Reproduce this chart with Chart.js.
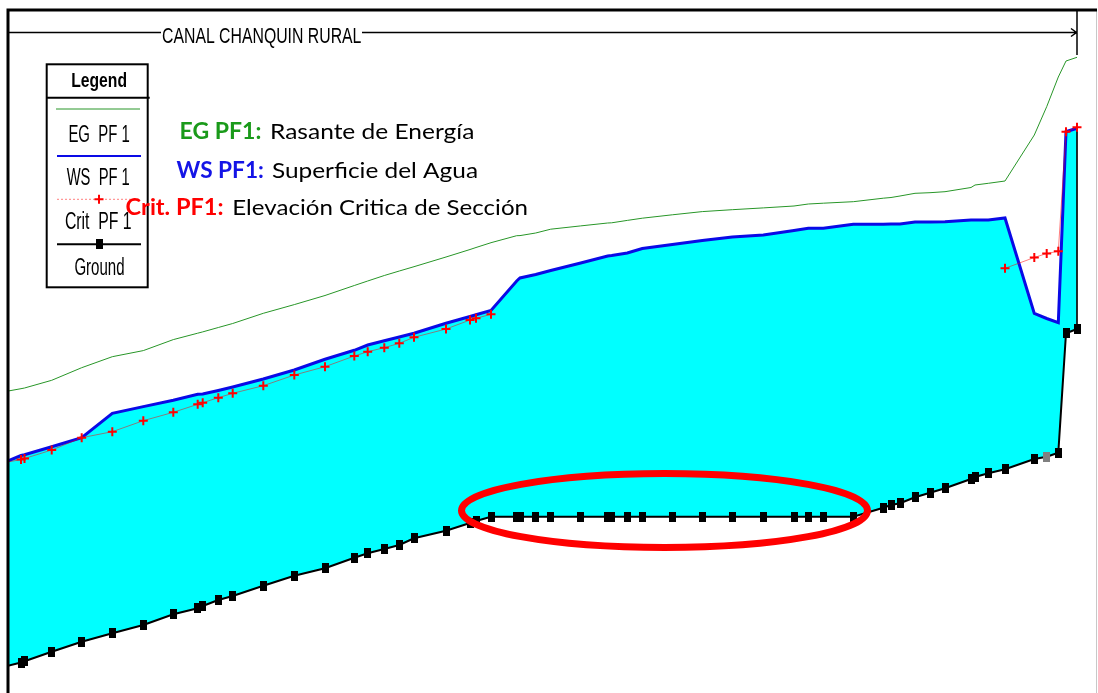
<!DOCTYPE html>
<html>
<head>
<meta charset="utf-8">
<script src="https://cdn.jsdelivr.net/npm/chart.js@4/dist/chart.umd.min.js"></script>
<style>
  html, body { margin: 0; padding: 0; background: #fff; overflow: hidden; }
  canvas { display: block; }
</style>
</head>
<body>
<canvas id="profile" width="1098" height="720"></canvas>
<script>
// Longitudinal profile of the reach: stations (m) and elevations per series
const stations = [
  -8, 13, 16.5, 43.7, 73.7, 104.3, 135.3, 165.3, 189.7, 194.7,
  210.3, 224.7, 255.3, 286.3, 317, 346.3, 359.7, 376.3, 391.3, 406,
  438, 462, 468, 483, 508.7, 512, 527.7, 542.7, 572.7, 599.7,
  603.7, 619.3, 634.3, 664.3, 694.3, 724.3, 755.3, 786, 800.3, 815.3,
  845.3, 875.3, 883, 892, 907, 922, 937, 963, 967, 980.3,
  997, 1026.3, 1038.7, 1050.3, 1058, 1069
];
const groundElev = [
  32.4, 37.5, 38.7, 48.3, 58.3, 66.7, 75, 85.7, 91.7, 94,
  100, 104, 114.3, 124.3, 131.7, 142.3, 146.7, 151, 155, 161.7,
  169.3, 177, 179, 183.3, 183.3, 183.3, 183.3, 183.3, 183.3, 183.3,
  183.3, 183.3, 183.3, 183.3, 183.3, 183.3, 183.3, 183.3, 183.3, 183.3,
  183.3, 192.3, 195, 196.7, 202.7, 207.3, 211.7, 221, 223, 226.7,
  230.7, 241, 243.3, 247.3, 366.7, 371
];
const wsElev = [
  236, 244.5, 245.3, 253.2, 262.3, 286.7, 293.4, 299.8, 305.7, 306,
  309.5, 313, 321, 330, 340.7, 349.7, 355, 359.2, 363, 366.7,
  376.7, 383.5, 385.3, 389.5, 419, 422, 425.5, 429.5, 437, 444,
  444.5, 447, 451.5, 455.5, 459.5, 463, 465, 469.5, 471.7, 471.7,
  475.7, 475.7, 476, 476, 478, 478, 478.3, 480, 480, 480,
  482, 386.5, 381.5, 377.3, 568.3, 571.7
];
const egElev = [
  307.5, 311.3, 312, 319.7, 332.3, 343.3, 349.4, 360.4, 366.8, 368.1,
  372.5, 376.5, 386.7, 395.4, 404.5, 414.5, 419, 424.5, 429, 433.3,
  443, 450.5, 452.5, 457.3, 464.3, 464.4, 467, 470.8, 474.1, 477,
  477.2, 479.6, 481.8, 485.2, 488.4, 490.3, 492.1, 494, 496, 496.8,
  498.3, 501.8, 502.5, 504, 506.7, 507.3, 508.3, 512.5, 515, 516.7,
  519, 565, 593.3, 623, 639, 642.7
];
const critElev = [
  236.5, 240.5, 241.5, 250, 262.3, 268.3, 279.3, 287.7, 295.7, 297.3,
  302.3, 306.7, 314.3, 325, 333.3, 344, 348.3, 352.3, 356.7, 362.7,
  371, 380, 381.7, 385.7, null, null, null, null, null, null,
  null, null, null, null, null, null, null, null, null, null,
  null, null, null, null, null, null, null, null, null, null,
  431.7, 442.5, 446.5, 448.7, 568.3, 572.7
];
// Stations drawn with a grey ground marker
const greyGroundStations = [1038.7];

const seriesLabels = ['EG  PF 1', 'WS  PF 1', 'Crit  PF 1', 'Ground'];
const reachName = 'CANAL CHANQUIN RURAL';
const noteTags = ['EG PF1:', 'WS PF1:', 'Crit. PF1:'];
const noteTexts = ['Rasante de Energía', 'Superficie del Agua', 'Elevación Critica de Sección'];
const noteColors = ['#1a9a1a', '#1414e6', '#ff0000'];

// Highlighted flat stretch of the canal bed (data units)
const highlight = { cx: 656.5, cy: 189.5, rx: 203, ry: 37 };

const NARROW = '"Liberation Sans Narrow", "Liberation Sans", Arial, sans-serif';
const NOTE_FONT = 'Lato, "Open Sans", sans-serif';

function blockMarker(color) {
  const c = document.createElement('canvas');
  c.width = 7; c.height = 10;
  const g = c.getContext('2d');
  g.fillStyle = color;
  g.fillRect(0, 0, 7, 10);
  return c;
}
const blackBlock = blockMarker('#000000');
const greyBlock = blockMarker('#808080');

const pts = arr => stations.map((x, i) => ({ x: x, y: arr[i] }));
const last = stations.length - 1;

function fitText(ctx, str, font, left, right, baseline, color) {
  ctx.save();
  ctx.font = font;
  ctx.fillStyle = color;
  ctx.textAlign = 'left';
  ctx.textBaseline = 'alphabetic';
  const w = ctx.measureText(str).width;
  ctx.translate(left, baseline);
  ctx.scale((right - left) / w, 1);
  ctx.fillText(str, 0, 0);
  ctx.restore();
}

const decor = {
  id: 'profileDecor',
  afterDatasetsDraw(chart) {
    const ctx = chart.ctx;
    const a = chart.chartArea;
    const xs = chart.scales.x, ys = chart.scales.y;

    // highlight ellipse around the flat bed
    ctx.save();
    const cx = xs.getPixelForValue(highlight.cx), cy = ys.getPixelForValue(highlight.cy);
    const rx = xs.getPixelForValue(highlight.cx + highlight.rx) - cx;
    const ry = cy - ys.getPixelForValue(highlight.cy + highlight.ry);
    ctx.beginPath();
    ctx.ellipse(cx, cy, rx, ry, 0, 0, Math.PI * 2);
    ctx.strokeStyle = '#ff0000';
    ctx.lineWidth = 7;
    ctx.stroke();
    ctx.restore();

    // plot frame
    ctx.save();
    ctx.strokeStyle = '#c8c8c8';
    ctx.lineWidth = 1;
    ctx.beginPath(); ctx.moveTo(a.right - 0.5, a.top); ctx.lineTo(a.right - 0.5, a.bottom); ctx.stroke();
    ctx.strokeStyle = '#000';
    ctx.lineWidth = 3;
    ctx.beginPath();
    ctx.moveTo(a.left, a.bottom); ctx.lineTo(a.left, a.top); ctx.lineTo(a.right, a.top);
    ctx.stroke();

    // reach extent arrow with its name
    const endX = xs.getPixelForValue(stations[last]);
    const arrowY = 32.5;
    ctx.lineWidth = 1.5;
    ctx.beginPath();
    ctx.moveTo(a.left, arrowY); ctx.lineTo(161, arrowY);
    ctx.moveTo(362, arrowY); ctx.lineTo(endX - 1, arrowY);
    ctx.moveTo(endX - 6, arrowY - 4); ctx.lineTo(endX - 0.5, arrowY); ctx.lineTo(endX - 6, arrowY + 4);
    ctx.moveTo(endX, a.top); ctx.lineTo(endX, 55);
    ctx.stroke();
    ctx.restore();
    fitText(ctx, reachName, '22px ' + NARROW, 162, 361.4, 42.7, '#000');

    // legend box
    const box = { left: 46.7, top: 64.3, right: 147.7, bottom: 287.3, head: 97.7 };
    ctx.save();
    ctx.fillStyle = '#fff';
    ctx.fillRect(box.left, box.top, box.right - box.left, box.bottom - box.top);
    ctx.strokeStyle = '#000';
    ctx.lineWidth = 2;
    ctx.strokeRect(box.left, box.top, box.right - box.left, box.bottom - box.top);
    ctx.beginPath(); ctx.moveTo(box.left, box.head); ctx.lineTo(box.right + 2, box.head); ctx.stroke();
    ctx.restore();
    fitText(ctx, 'Legend', 'bold 21px ' + NARROW, 71.2, 127, 87.3, '#000');

    const ds = chart.data.datasets;
    const byLabel = l => ds.find(d => d.label === l);
    const entries = [
      { d: byLabel(seriesLabels[0]), y: 109, x0: 56, x1: 140, tl: 68.4, tr: 129.8, tb: 141.7 },
      { d: byLabel(seriesLabels[1]), y: 156, x0: 57, x1: 141, tl: 66.7, tr: 129.8, tb: 185 },
      { d: byLabel(seriesLabels[2]), y: 199.3, x0: 57, x1: 141, tl: 64.9, tr: 131.6, tb: 229.3, mark: 'cross' },
      { d: byLabel(seriesLabels[3]), y: 244.3, x0: 57, x1: 141, tl: 74.4, tr: 124.6, tb: 275, mark: 'block' }
    ];
    entries.forEach(e => {
      ctx.save();
      ctx.strokeStyle = e.d.borderColor;
      ctx.lineWidth = Math.min(e.d.borderWidth, 2);
      if (e.mark === 'cross') ctx.setLineDash([2, 2]);
      ctx.beginPath(); ctx.moveTo(e.x0, e.y); ctx.lineTo(e.x1, e.y); ctx.stroke();
      ctx.setLineDash([]);
      const mx = (e.x0 + e.x1) / 2;
      if (e.mark === 'cross') {
        ctx.strokeStyle = e.d.pointBorderColor;
        ctx.lineWidth = 2;
        ctx.beginPath();
        ctx.moveTo(mx - 4.5, e.y); ctx.lineTo(mx + 4.5, e.y);
        ctx.moveTo(mx, e.y - 4.5); ctx.lineTo(mx, e.y + 4.5);
        ctx.stroke();
      } else if (e.mark === 'block') {
        ctx.drawImage(blackBlock, mx - 3.5, e.y - 5);
      }
      ctx.restore();
      fitText(ctx, e.d.label, '23px ' + NARROW, e.tl, e.tr, e.tb, '#000');
    });

    // series notes
    const noteRows = [
      { tl: 179.6, tr: 261.4, sl: 270, sr: 474.4, b: 139.3 },
      { tl: 176.5, tr: 263.9, sl: 272, sr: 478, b: 178.3 },
      { tl: 125.6, tr: 223.5, sl: 232.3, sr: 528, b: 215 }
    ];
    noteRows.forEach((r, i) => {
      fitText(ctx, noteTags[i], 'bold 22px ' + NOTE_FONT, r.tl, r.tr, r.b, noteColors[i]);
      fitText(ctx, noteTexts[i], '22px ' + NOTE_FONT, r.sl, r.sr, r.b, '#000');
    });
  }
};

new Chart(document.getElementById('profile'), {
  type: 'line',
  data: {
    datasets: [
      {
        label: seriesLabels[0], data: pts(egElev),
        borderColor: 'rgb(40,150,40)', borderWidth: 1, pointRadius: 0, fill: false
      },
      {
        label: seriesLabels[2], data: pts(critElev),
        borderColor: 'rgba(255,0,0,0.5)', borderWidth: 1,
        pointStyle: 'cross', pointRadius: 4.5, pointBorderColor: '#ff0000', pointBorderWidth: 2,
        spanGaps: false, fill: false
      },
      {
        label: seriesLabels[1], data: pts(wsElev),
        borderColor: '#0a0ae6', borderWidth: 3, pointRadius: 0,
        fill: 3, backgroundColor: '#00ffff'
      },
      {
        label: seriesLabels[3], data: pts(groundElev),
        borderColor: '#000', borderWidth: 2, pointRadius: 5,
        pointStyle: c => greyGroundStations.includes(stations[c.dataIndex]) ? greyBlock : blackBlock,
        fill: false
      },
      {
        label: 'reach end',
        data: [{ x: stations[last], y: wsElev[last] }, { x: stations[last], y: groundElev[last] }],
        borderColor: '#111', borderWidth: 1, pointRadius: 0, fill: false
      }
    ]
  },
  options: {
    responsive: false,
    devicePixelRatio: 1,
    animation: false,
    events: [],
    layout: { autoPadding: false, padding: { left: 8, top: 10, right: 1, bottom: 20 } },
    elements: { line: { tension: 0 } },
    datasets: { line: { clip: 0 } },
    scales: {
      x: { type: 'linear', min: 0, max: 1089, display: false },
      y: { type: 'linear', min: 0, max: 690, display: false }
    },
    plugins: {
      legend: { display: false },
      tooltip: { enabled: false },
      filler: { drawTime: 'beforeDatasetsDraw' }
    }
  },
  plugins: [decor]
});
</script>
</body>
</html>
